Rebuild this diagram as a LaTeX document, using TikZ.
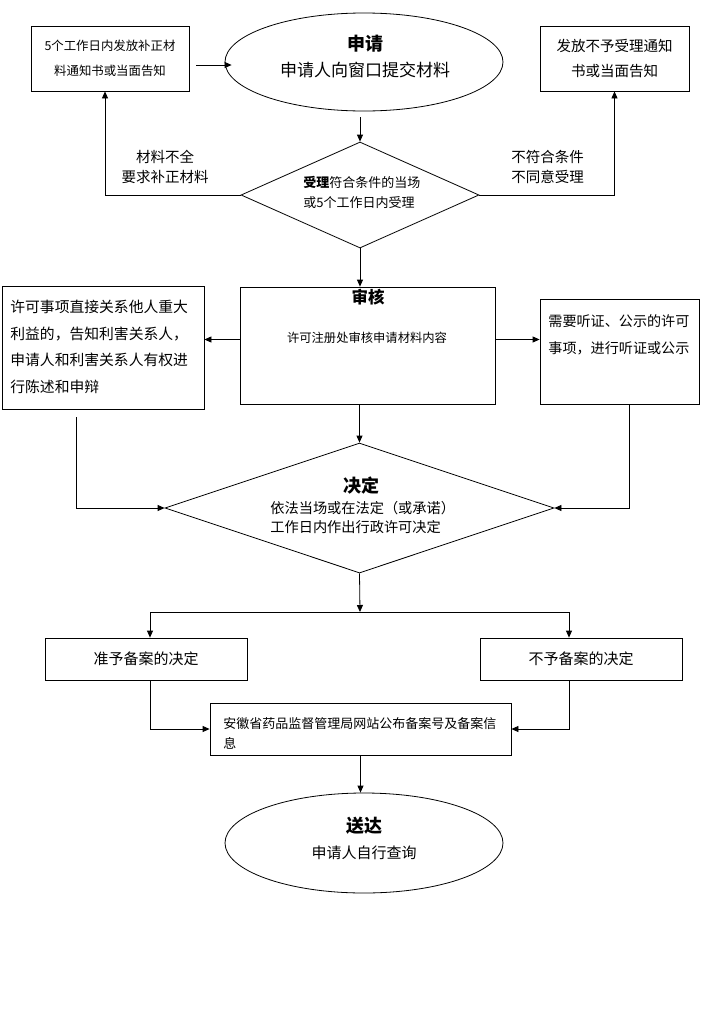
\documentclass[tikz,border=0pt]{standalone}
\usepackage{fontspec}
\setmainfont{Noto Sans CJK SC}
\usetikzlibrary{arrows.meta,shapes.geometric,calc}
\newcommand{\fs}[2]{\fontsize{#1pt}{#2pt}\selectfont}
\begin{document}
\begin{tikzpicture}[x=1pt,y=-1pt,
  line width=0.8pt,
  arr/.style={-{Triangle[length=7pt,width=6pt]}},
  box/.style={draw,rectangle,inner sep=0pt},
  ell/.style={draw,ellipse,inner sep=0pt},
  dia/.style={draw,diamond,inner sep=0pt},
  txt/.style={inner sep=0pt,align=center},
  ltxt/.style={inner sep=0pt,align=left,anchor=west}]
\useasboundingbox[fill=white] (0,0) rectangle (705,1029);

% nodes
\node[box,minimum width=158pt,minimum height=65pt] (box1) at (110,58.5) {};
\node[txt,font={\fs{12.4}{25}}] (box1t) at (110,58.5) {5个工作日内发放补正材\\料通知书或当面告知};
\node[ell,minimum width=278pt,minimum height=98pt] (ell1) at (364,62) {};
\node[txt,font={\fs{18}{20}\bfseries}] (ell1a) at (365,44) {申请};
\node[txt,font={\fs{17}{20}}] (ell1b) at (365,70) {申请人向窗口提交材料};
\node[box,minimum width=149pt,minimum height=65pt] (box2) at (614.5,58.5) {};
\node[txt,font={\fs{14.5}{25}}] (box2t) at (614.5,58.5) {发放不予受理通知\\书或当面告知};

\node[dia,minimum width=238pt,minimum height=106pt] (d1) at (360,195) {};
\node[ltxt,font={\fs{13}{20}}] (d1t) at (303,192) {\textbf{受理}符合条件的当场\\或5个工作日内受理};
\node[txt,font={\fs{14.5}{20}}] (lbl1) at (165,167) {材料不全\\要求补正材料};
\node[ltxt,font={\fs{14.5}{20}}] (lbl2) at (511,167) {不符合条件\\不同意受理};

\node[box,minimum width=255pt,minimum height=117pt] (shen) at (367.5,345.5) {};
\node[txt,font={\fs{16.5}{20}\bfseries}] (shena) at (368,297) {审核};
\node[txt,font={\fs{12.3}{20}}] (shenb) at (367,338) {许可注册处审核申请材料内容};
\node[box,minimum width=202pt,minimum height=123pt] (lbox) at (103,347.5) {};
\node[ltxt,font={\fs{14.8}{26.7}}] (lboxt) at (10,347) {许可事项直接关系他人重大\\利益的，告知利害关系人，\\申请人和利害关系人有权进\\行陈述和申辩};
\node[box,minimum width=159pt,minimum height=105pt] (rbox) at (619.5,351.5) {};
\node[ltxt,font={\fs{14.1}{27}}] (rboxt) at (548,334.5) {需要听证、公示的许可\\事项，进行听证或公示};

\node[dia,minimum width=389pt,minimum height=130pt] (d2) at (359.5,508) {};
\node[txt,font={\fs{18}{20}\bfseries}] (d2a) at (361,486) {决定};
\node[ltxt,font={\fs{14.2}{19.5}}] (d2b) at (270,517.5) {依法当场或在法定（或承诺）\\工作日内作出行政许可决定};

\coordinate (split) at (360,612);
\node[box,minimum width=202pt,minimum height=42pt] (yes) at (146,659) {};
\node[txt,font={\fs{15}{20}}] (yest) at (146,659) {准予备案的决定};
\node[box,minimum width=202pt,minimum height=42pt] (no) at (581,659) {};
\node[txt,font={\fs{15}{20}}] (not) at (581,659) {不予备案的决定};
\node[box,minimum width=301pt,minimum height=52pt] (pub) at (360.5,729) {};
\node[ltxt,font={\fs{13}{20}}] (pubt) at (223,733) {安徽省药品监督管理局网站公布备案号及备案信\\息};
\node[ell,minimum width=278pt,minimum height=100pt] (ell2) at (364,843) {};
\node[txt,font={\fs{18}{20}\bfseries}] (ell2a) at (364,826) {送达};
\node[txt,font={\fs{15}{20}}] (ell2b) at (364,853) {申请人自行查询};

% connectors
\draw[arr] ([shift={(7,6.5)}]box1.east) -- ([shift={(7,6.5)}]box1.east -| ell1.west);
\draw[arr] (d1.north |- ell1.south) ++(0,6) -- (d1.north);
\draw[arr] (d1.west) -| ([xshift=-5]box1.south);
\draw[arr] (d1.east) -| (box2.south);
\draw[arr] (d1.south) -- (d1.south |- shen.north);
\draw[arr] ([yshift=6]shen.west) -- ([yshift=6]shen.west -| lbox.east);
\draw[arr] ([yshift=6]shen.east) -- ([yshift=6]shen.east -| rbox.west);
\draw[arr] ([shift={(-27,8)}]lbox.south) |- (d2.west);
\draw[arr] ([xshift=10]rbox.south) |- (d2.east);
\draw[arr] (d2.north |- shen.south) -- (d2.north);
\draw[arr] (d2.south) -- (split);
\draw[arr] (split) -| ([xshift=4]yes.north);
\draw[arr] (split) -| ([xshift=-12]no.north);
\draw[arr] ([xshift=4]yes.south) |- (pub.west);
\draw[arr] ([xshift=-12]no.south) |- (pub.east);
\draw[arr] (pub.south) -- (pub.south |- ell2.north);
\end{tikzpicture}
\end{document}
